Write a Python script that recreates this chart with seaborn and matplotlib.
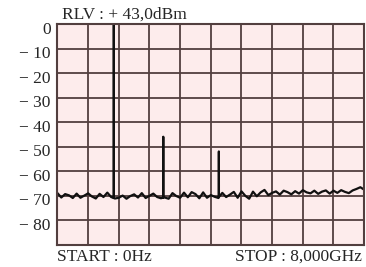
import numpy as np
import pandas as pd
import seaborn as sns
import matplotlib.pyplot as plt
import matplotlib.transforms as mtransforms

# noise floor, 0.0 .. 8.0 GHz every 0.1 GHz (dBm)
floor_freq = [round(i * 0.1, 1) for i in range(81)]
floor_level = [
    -69.0, -70.8, -69.4, -69.9, -71.0, -69.2, -70.9, -70.0, -69.1, -70.4,
    -71.2, -69.3, -70.6, -68.8, -70.6,
    -71.2, -70.9, -70.0, -71.3, -70.2, -69.5, -70.8, -69.0, -71.0, -70.1,
    -69.2, -70.6, -71.1,
    -70.8, -71.3, -69.0, -70.2, -70.9, -68.8, -70.7, -68.6, -69.4, -71.1,
    -68.7, -70.9, -69.8, -70.5,
    -71.0, -68.9, -70.6, -69.6, -68.5, -70.9, -68.3, -70.1, -71.3, -68.4,
    -70.3, -68.7, -67.7, -69.8, -68.9, -68.3, -69.6, -68.0, -68.6, -69.5,
    -68.2, -69.2, -67.8, -68.7, -69.1, -68.0, -69.3, -68.4, -67.9, -69.2,
    -68.0, -68.9, -67.8, -68.5, -69.0, -67.9, -67.3, -66.6, -67.6,
]

# harmonics
spike_freq = [1.47, 2.76, 4.21]
spike_peak = [0.0, -46.0, -52.0]
spike_base = [-71.0, -70.8, -70.6]

yticks = [0, -10, -20, -30, -40, -50, -60, -70, -80]
ytick_labels = ["0"] + ["\u2212 %d" % (-v) for v in yticks[1:]]

pts = list(zip(floor_freq, floor_level))
for f, p, b in zip(spike_freq, spike_peak, spike_base):
    pts += [(f - 0.001, b), (f, p), (f + 0.001, b)]
pts.sort()
df = pd.DataFrame(pts, columns=["freq", "level"])

sns.set_style("white")
plt.rcParams["font.family"] = ["Liberation Serif", "DejaVu Serif"]

grid_col = "#523f3f"
fig = plt.figure(figsize=(3.66, 2.67), dpi=100)
ax = fig.add_axes([0.157, 0.084, 0.838, 0.826])
ax.set_facecolor("#fdecec")

sns.lineplot(data=df, x="freq", y="level", ax=ax, color="#111111",
             linewidth=1.6, sort=False, estimator=None)

ax.set_xlim(0, 8)
ax.set_ylim(-90, 0)
ax.set_xticks(np.arange(0, 8.01, 0.8))
ax.set_xticklabels([])
ax.set_yticks(yticks)
ax.set_yticklabels(ytick_labels, fontsize=12.5)
ax.tick_params(axis="y", length=0, pad=5)
ax.tick_params(axis="x", length=0)
ax.grid(True, color=grid_col, linewidth=1.3)
ax.set_axisbelow(True)
for s in ax.spines.values():
    s.set_color(grid_col)
    s.set_linewidth(1.5)
ax.set_xlabel("")
ax.set_ylabel("")

# labels sit a little below their grid line
shift = mtransforms.ScaledTranslation(0, -3.5 / 100, fig.dpi_scale_trans)
for t in ax.get_yticklabels():
    t.set_transform(t.get_transform() + shift)

fig.text(0.169, 0.944, "RLV : + 43,0dBm", fontsize=12.5, va="center", ha="left")
fig.text(0.155, 0.037, "START : 0Hz", fontsize=12.5, va="center", ha="left")
fig.text(0.989, 0.037, "STOP : 8,000GHz", fontsize=12.5, va="center", ha="right")

fig.savefig("out.png", dpi=100, facecolor="white")
